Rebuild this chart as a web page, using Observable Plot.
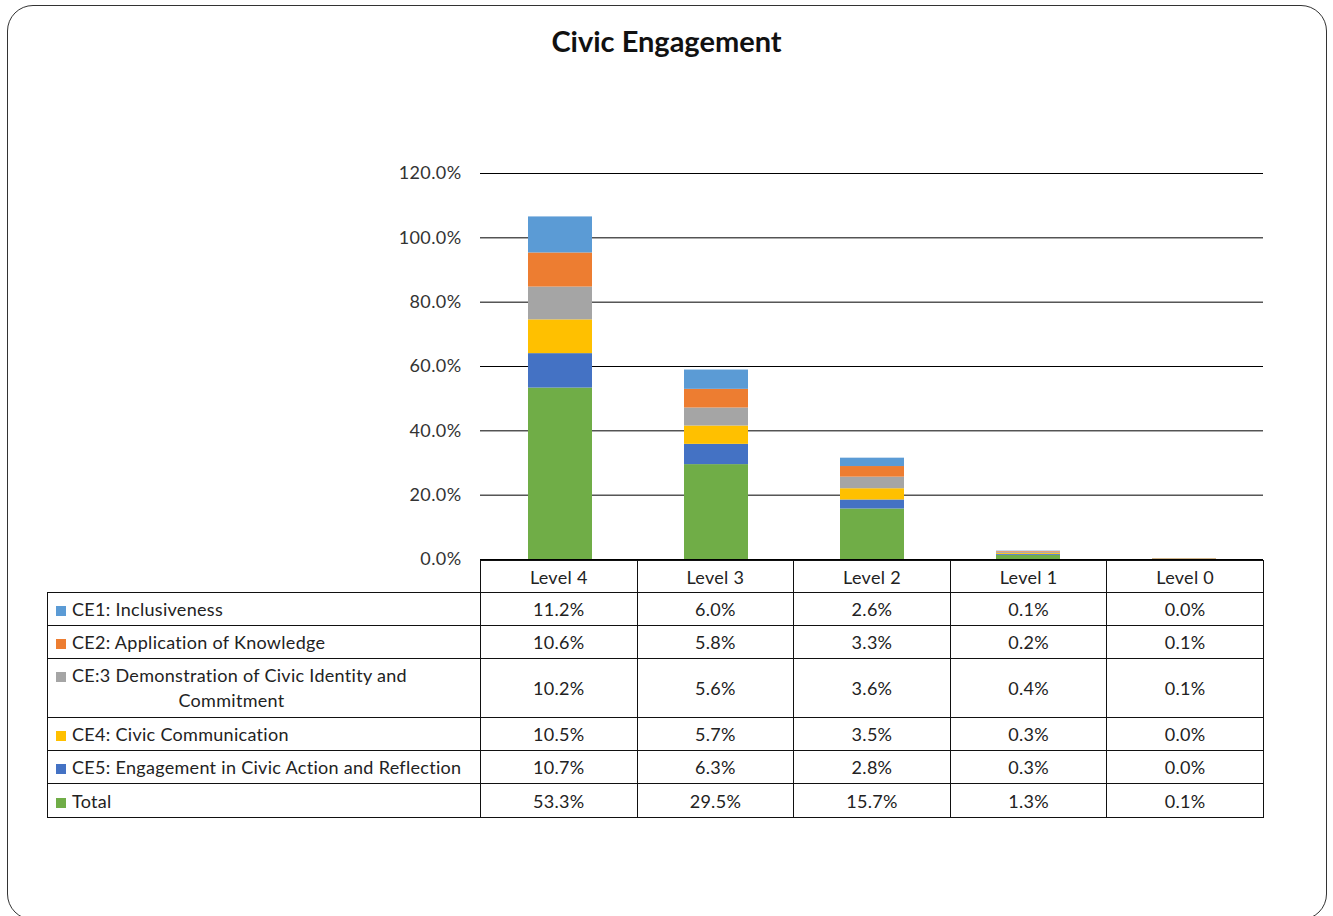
<!DOCTYPE html>
<html>
<head>
<meta charset="utf-8">
<script src="https://cdn.jsdelivr.net/npm/d3@7"></script>
<script src="https://cdn.jsdelivr.net/npm/@observablehq/plot@0.6"></script>
<style>
  html, body { margin: 0; padding: 0; background: #fff; }
  body { width: 1333px; height: 916px; position: relative; overflow: hidden; font-family: Lato, sans-serif; color: #222; }
  #frame { position: absolute; left: 7px; top: 5px; width: 1320px; height: 915px; border: 1.5px solid #333; border-radius: 26px; box-sizing: border-box; }
  #title { position: absolute; left: 0; top: 23px; width: 1333px; text-align: center; font-size: 29px; font-weight: 700; color: #111; }
  #chart { position: absolute; left: 0; top: 0; }
  #table { position: absolute; left: 47px; top: 560px; border-collapse: collapse; font-size: 18px; letter-spacing: 0.3px; color: #222; }
  #table td { border: 1px solid #111; text-align: center; padding: 0; box-sizing: border-box; }
  #table td.blank { border: none; border-right: 1px solid #111; }
  #table td.label { text-align: left; padding-left: 8px; }
  .sw { display: inline-block; width: 10px; height: 10px; margin-right: 6px; vertical-align: 0px; }
  .wrap { display: inline-block; text-align: center; line-height: 25px; }
</style>
</head>
<body>
<div id="frame"></div>
<div id="title">Civic Engagement</div>
<div id="chart"></div>
<table id="table"></table>
<script>
// ---- data ----
const levels = ["Level 4", "Level 3", "Level 2", "Level 1", "Level 0"];
const seriesNames = [
  "CE1: Inclusiveness",
  "CE2: Application of Knowledge",
  "CE:3 Demonstration of Civic Identity and Commitment",
  "CE4: Civic Communication",
  "CE5: Engagement in Civic Action and Reflection",
  "Total"
];
const seriesColors = ["#5B9BD5", "#ED7D31", "#A5A5A5", "#FFC000", "#4472C4", "#70AD47"];
const ce1   = [11.2, 6.0, 2.6, 0.1, 0.0];
const ce2   = [10.6, 5.8, 3.3, 0.2, 0.1];
const ce3   = [10.2, 5.6, 3.6, 0.4, 0.1];
const ce4   = [10.5, 5.7, 3.5, 0.3, 0.0];
const ce5   = [10.7, 6.3, 2.8, 0.3, 0.0];
const total = [53.3, 29.5, 15.7, 1.3, 0.1];
const yTicks = [0, 20, 40, 60, 80, 100, 120];

const seriesValues = [ce1, ce2, ce3, ce4, ce5, total];
const fmt = v => v.toFixed(1) + "%";

// stacking order: Total at bottom, then CE5, CE4, CE3, CE2, CE1
const stackOrder = [5, 4, 3, 2, 1, 0];
const rows = [];
for (const si of stackOrder) {
  levels.forEach((lv, li) => rows.push({level: lv, series: seriesNames[si], value: seriesValues[si][li]}));
}

const plot = Plot.plot({
  width: 1333,
  height: 575,
  marginLeft: 480,
  marginRight: 70,
  marginTop: 173,
  marginBottom: 16,
  style: {fontFamily: "Lato, sans-serif", fontSize: "18px", letterSpacing: "0.4px", color: "#333", background: "transparent", overflow: "visible"},
  x: {domain: levels, paddingInner: 0.59, paddingOuter: 0.295, axis: null},
  y: {domain: [0, 120], label: null},
  color: {domain: seriesNames, range: seriesColors},
  marks: [
    Plot.ruleY(yTicks, {stroke: "#000", strokeWidth: 1}),
    Plot.barY(rows, {x: "level", y: "value", fill: "series", order: null}),
    Plot.axisY(yTicks, {tickSize: 0, tickPadding: 19, tickFormat: fmt, fontSize: 18, fill: "#333", label: null})
  ]
});
document.getElementById("chart").appendChild(plot);

// ---- data table ----
const table = document.getElementById("table");
const colW = 783 / 5;
const head = document.createElement("tr");
head.style.height = "32px";
const blank = document.createElement("td");
blank.className = "blank";
blank.style.width = "433px";
head.appendChild(blank);
levels.forEach(lv => {
  const td = document.createElement("td");
  td.style.width = colW + "px";
  td.textContent = lv;
  head.appendChild(td);
});
table.appendChild(head);
const rowHeights = [33, 33, 59, 33, 33, 34];
seriesNames.forEach((name, si) => {
  const tr = document.createElement("tr");
  tr.style.height = rowHeights[si] + "px";
  const td = document.createElement("td");
  td.className = "label";
  const sw = `<span class="sw" style="background:${seriesColors[si]}"></span>`;
  if (si === 2) {
    td.innerHTML = `<span class="wrap">${sw}CE:3 Demonstration of Civic Identity and<br>Commitment</span>`;
  } else {
    td.innerHTML = sw + name;
  }
  tr.appendChild(td);
  seriesValues[si].forEach(v => {
    const c = document.createElement("td");
    c.textContent = fmt(v);
    tr.appendChild(c);
  });
  table.appendChild(tr);
});
</script>
</body>
</html>
